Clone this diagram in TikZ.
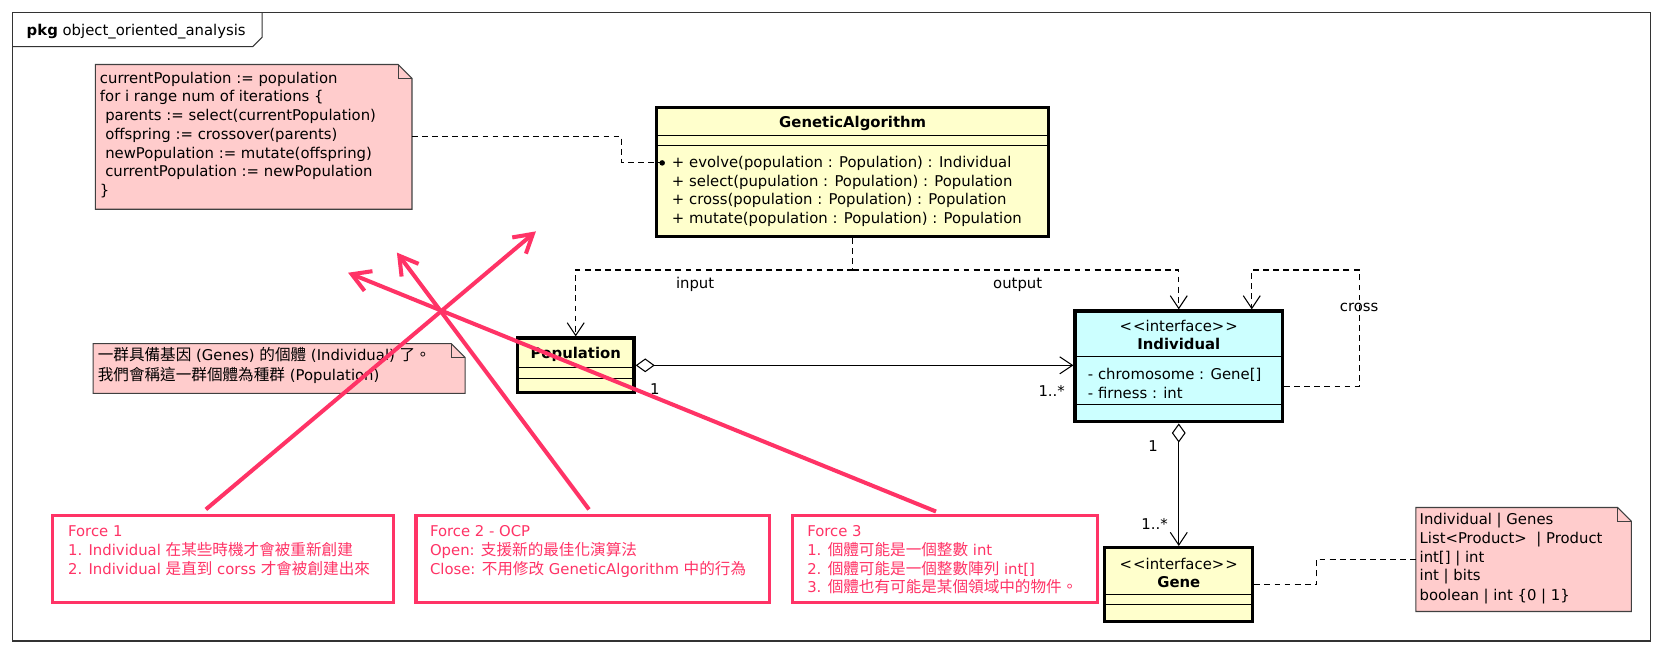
\documentclass[tikz,border=0pt]{standalone}
\usepackage{fontspec}
\setmainfont{DejaVu Sans}
\newfontfamily\cjk{Noto Sans CJK TC}[Scale=1.05]
\usetikzlibrary{arrows.meta,calc}
\definecolor{clsyellow}{HTML}{FFFFCC}
\definecolor{clscyan}{HTML}{CCFFFF}
\definecolor{notepink}{HTML}{FFCCCC}
\definecolor{forcered}{HTML}{FF3366}
\newcommand\diagfont{\fontsize{14pt}{17pt}\selectfont}
\newcommand\notefold[2]{%
  \draw[notepath] (#1.north west) -- ($(#1.north east)+(-#2,0)$) -- ($(#1.north east)+(0,#2)$) -- (#1.south east) -- (#1.south west) -- cycle;
  \draw[notepath, fill=none] ($(#1.north east)+(-#2,0)$) -- ($(#1.north east)+(-#2,#2)$) -- ($(#1.north east)+(0,#2)$);
}
\tikzset{
  txt/.style={inner sep=0pt, text height=11pt, text depth=2pt, anchor=west, font=\diagfont},
  ctxt/.style={inner sep=0pt, text height=11pt, text depth=2pt, anchor=center, font=\diagfont},
  boldtxt/.style={ctxt, font=\diagfont\bfseries},
  clsbox/.style={draw=black, line width=3pt, fill=clsyellow, inner sep=0pt},
  ifbox/.style={clsbox, fill=clscyan},
  notebody/.style={inner sep=0pt},
  notepath/.style={draw=black!75, line width=1pt, fill=notepink},
  forcebox/.style={draw=forcered, line width=3pt, fill=white, inner sep=0pt},
  ftxt/.style={txt, text=forcered},
  sepline/.style={line width=1pt, draw=black},
  dsh/.style={line width=1pt, dash pattern=on 5.5pt off 4pt},
  dep/.style={dsh, -{Straight Barb[length=12pt,width=16pt]}},
  agg/.style={line width=1pt, {Diamond[length=18pt,width=13pt,fill=white]}-{Straight Barb[length=12pt,width=16pt]}},
  forcearrow/.style={draw=forcered, line width=3.8pt, -{Straight Barb[length=17pt,width=20pt]}},
  pkgframe/.style={draw=black!80, line width=1pt, inner sep=0pt},
}
\begin{document}
\begin{tikzpicture}[x=1pt,y=-1pt]
\useasboundingbox (0,0) rectangle (1568,616.3);

% package frame
\node[pkgframe, minimum width=1543pt, minimum height=592pt] (pkg) at (783.5,308) {};
\draw[black!80, line width=1pt] (12,44) -- (238,44) -- (247,35) -- (247,12);
\node[txt] (pkgt) at (25,29) {\textbf{pkg} object\_oriented\_analysis};

% note 1 (algorithm)
\node[notebody, minimum width=298pt, minimum height=136pt] (n1) at (239,129) {};
\notefold{n1}{13}
\node[txt] (n1a) at (94,74) {currentPopulation := population};
\node[txt] (n1b) at (94,91.6) {for i range num of iterations \{};
\node[txt] (n1c) at (99,109.2) {parents := select(currentPopulation)};
\node[txt] (n1d) at (99,126.8) {offspring := crossover(parents)};
\node[txt] (n1e) at (99,144.4) {newPopulation := mutate(offspring)};
\node[txt] (n1f) at (99,162) {currentPopulation := newPopulation};
\node[txt] (n1g) at (94,179.6) {\}};

% GeneticAlgorithm
\node[clsbox, minimum width=369pt, minimum height=122pt] (ga) at (803.5,162) {};
\node[boldtxt] (gat) at (803.5,116) {GeneticAlgorithm};
\draw[sepline] ($(ga.north west)+(0,28)$) -- ($(ga.north east)+(0,28)$);
\draw[sepline] ($(ga.north west)+(0,38)$) -- ($(ga.north east)+(0,38)$);
\node[txt] (gam1) at (633,153.5) {+ evolve(population : Population) : Individual};
\node[txt] (gam2) at (633,171) {+ select(pupulation : Population) : Population};
\node[txt] (gam3) at (633,188.5) {+ cross(population : Population) : Population};
\node[txt] (gam4) at (633,206) {+ mutate(population : Population) : Population};

% Population
\node[clsbox, minimum width=110pt, minimum height=51.5pt] (pop) at (542.5,344.25) {};
\node[boldtxt] (popt) at (542.5,333) {Population};
\draw[sepline] ($(pop.north west)+(0,29.5)$) -- ($(pop.north east)+(0,29.5)$);
\draw[sepline] ($(pop.north west)+(0,39.5)$) -- ($(pop.north east)+(0,39.5)$);

% Individual
\node[ifbox, minimum width=195.5pt, minimum height=104.5pt] (ind) at (1110.75,345.25) {};
\node[ctxt] (inds) at (1110.75,307.8) {<\kern1pt<interface>\kern1pt>};
\node[boldtxt] (indt) at (1110.75,324.5) {Individual};
\draw[sepline] ($(ind.north west)+(0,44.7)$) -- ($(ind.north east)+(0,44.7)$);
\node[txt] (inda1) at (1025,353.4) {- chromosome : Gene[]};
\node[txt] (inda2) at (1025,370.6) {- firness : int};
\draw[sepline] ($(ind.north west)+(0,89.6)$) -- ($(ind.north east)+(0,89.6)$);

% Gene
\node[clsbox, minimum width=139.5pt, minimum height=70pt] (gene) at (1110.75,551) {};
\node[ctxt] (genes) at (1110.75,532.4) {<\kern1pt<interface>\kern1pt>};
\node[boldtxt] (genet) at (1110.75,549) {Gene};
\draw[sepline] ($(gene.north west)+(0,45.6)$) -- ($(gene.north east)+(0,45.6)$);
\draw[sepline] ($(gene.north west)+(0,55)$) -- ($(gene.north east)+(0,55)$);

% note 2
\node[notebody, minimum width=350pt, minimum height=46.5pt] (n2) at (263,347.25) {};
\notefold{n2}{13}
\node[txt] (n2a) at (92,335.5) {{\cjk 一群具備基因} (Genes) {\cjk 的個體} (Individual) {\cjk 了。}};
\node[txt] (n2b) at (92,354.5) {{\cjk 我們會稱這一群個體為種群} (Population)};

% note 3
\node[notebody, minimum width=202.6pt, minimum height=97.6pt] (n3) at (1435.7,527.2) {};
\notefold{n3}{13}
\node[txt] (n3a) at (1337.5,490) {Individual | Genes};
\node[txt] (n3b) at (1337.5,508) {List<Product> \ | Product};
\node[txt] (n3c) at (1337.5,525.5) {int[] | int};
\node[txt] (n3d) at (1337.5,542.8) {int | bits};
\node[txt] (n3e) at (1337.5,561.3) {boolean | int \{0 | 1\}};

% connectors
\coordinate (j1) at (586,153.5);
\draw[dsh] (n1.east) -| (j1) -- ($(ga.west |- gam1)+(6.5,0)$);
\fill ($(ga.west |- gam1)+(6.5,0)$) circle (2.6pt);

\coordinate (gajoin) at (803.5,254.4);
\draw[dsh] (ga.south) -- (gajoin);
\draw[dep] (gajoin) -| (pop.north);
\draw[dep] (gajoin) -| (ind.north);
\node[ctxt] (inlab) at (655,267) {input};
\node[ctxt] (outlab) at (959,267) {output};

\coordinate (crossR) at (1280.7,254.4);
\draw[dep] ($(ind.east)+(0,19.2)$) -| (crossR) -| ($(ind.north)+(68.8,0)$);
\node[ctxt] (crosslab) at (1280.7,289) {cross};

\draw[agg] (pop.east) -- (pop.east -| ind.west);
\node[ctxt] (popm) at (617,367.5) {1};
\node[ctxt] (indm) at (991,369) {1..*};

\draw[agg] (ind.south) -- (gene.north);
\node[ctxt] (indm2) at (1086.6,421) {1};
\node[ctxt] (genem) at (1088,494) {1..*};

\coordinate (g3a) at (1240.5,527);
\draw[dsh] (gene.east) -| (g3a) -- (n3.west |- g3a);

% forces
\node[forcebox, minimum width=321pt, minimum height=82pt] (f1) at (210,527) {};
\node[ftxt] (f1a) at (64,501.5) {Force 1};
\node[ftxt] (f1b) at (64,519) {1. Individual {\cjk 在某些時機才會被重新創建}};
\node[ftxt] (f1c) at (64,536.5) {2. Individual {\cjk 是直到} corss {\cjk 才會被創建出來}};

\node[forcebox, minimum width=333pt, minimum height=82pt] (f2) at (558.5,527) {};
\node[ftxt] (f2a) at (405,501.5) {Force 2 - OCP};
\node[ftxt] (f2b) at (405,519) {Open: {\cjk 支援新的最佳化演算法}};
\node[ftxt] (f2c) at (405,536.5) {Close: {\cjk 不用修改} GeneticAlgorithm {\cjk 中的行為}};

\node[forcebox, minimum width=287.5pt, minimum height=82pt] (f3) at (890.25,527) {};
\node[ftxt] (f3a) at (760.5,501.5) {Force 3};
\node[ftxt] (f3b) at (760.5,519) {1. {\cjk 個體可能是一個整數} int};
\node[ftxt] (f3c) at (760.5,536.5) {2. {\cjk 個體可能是一個整數陣列} int[]};
\node[ftxt] (f3d) at (760.5,554) {3. {\cjk 個體也有可能是某個領域中的物件。}};

% force arrows
\coordinate (a1s) at (194,480); \coordinate (a1e) at (505,218);
\coordinate (a2s) at (555,480); \coordinate (a2e) at (374,238);
\coordinate (a3s) at (882,482); \coordinate (a3e) at (328,257);
\draw[forcearrow] (a1s) -- (a1e);
\draw[forcearrow] (a2s) -- (a2e);
\draw[forcearrow] (a3s) -- (a3e);
\end{tikzpicture}
\end{document}
